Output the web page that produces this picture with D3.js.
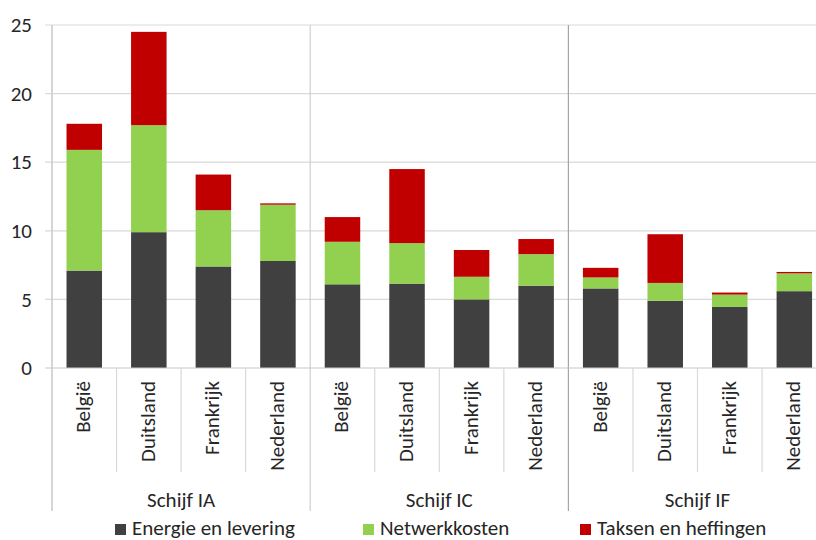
<!DOCTYPE html>
<html>
<head>
<meta charset="utf-8">
<script src="https://cdn.jsdelivr.net/npm/d3@7"></script>
<style>
  html, body { margin: 0; padding: 0; background: #fff; }
  svg { display: block; font-family: Carlito, Calibri, Lato, "Open Sans", sans-serif; }
</style>
</head>
<body>
<svg id="chart" width="816" height="540"></svg>
<script>
// Electricity price components per consumer band (Schijf) and country
const groups = ["Schijf IA", "Schijf IC", "Schijf IF"];
const countries = ["België", "Duitsland", "Frankrijk", "Nederland"];
const seriesNames = ["Energie en levering", "Netwerkkosten", "Taksen en heffingen"];
const seriesColors = ["#404040", "#92d050", "#c00000"];

// values in the order IA (BE, DE, FR, NL), IC (...), IF (...)
const energie = [7.1, 9.9, 7.4, 7.8, 6.1, 6.15, 5.0, 6.0, 5.8, 4.9, 4.45, 5.6];
const netwerk = [8.8, 7.8, 4.1, 4.1, 3.1, 2.95, 1.65, 2.3, 0.8, 1.3, 0.9, 1.3];
const taksen  = [1.9, 6.8, 2.6, 0.1, 1.8, 5.4, 1.95, 1.1, 0.7, 3.55, 0.15, 0.1];
const yTicks = [0, 5, 10, 15, 20, 25];

const rows = [];
groups.forEach((g, gi) => countries.forEach((c, ci) => {
  const i = gi * countries.length + ci;
  rows.push({ key: g + "|" + c, group: g, country: c,
    "Energie en levering": energie[i], "Netwerkkosten": netwerk[i], "Taksen en heffingen": taksen[i] });
}));

const svg = d3.select("#chart");
const plotLeft = 52, plotTop = 25, plotBottom = 368;
const step = 64.55;
const plotRight = plotLeft + step * rows.length;
const fontSize = 21;
const textColor = "#262626";

const x = d3.scaleBand().domain(rows.map(d => d.key)).range([plotLeft, plotRight]).padding(0);
const y = d3.scaleLinear().domain([0, 25]).range([plotBottom, plotTop]);
const barW = x.bandwidth() * 0.55;

// horizontal gridlines with short ticks left of the axis
svg.append("g").selectAll("line").data(yTicks.filter(t => t > 0)).join("line")
  .attr("x1", plotLeft - 7).attr("x2", 816)
  .attr("y1", d => y(d)).attr("y2", d => y(d))
  .attr("stroke", "#d9d9d9").attr("stroke-width", 1.2);

// group separators across the plot and the label area
const groupEdges = groups.map((g, gi) => x(rows[gi * countries.length].key));
svg.append("g").selectAll("line").data(groupEdges).join("line")
  .attr("x1", d => d).attr("x2", d => d)
  .attr("y1", plotTop).attr("y2", 511)
  .attr("stroke", (d, i) => i === 2 ? "#a6a6a6" : "#cfcfcf").attr("stroke-width", 1.2);

// stacked bars
const stack = d3.stack().keys(seriesNames);
const stacked = stack(rows);
svg.append("g").selectAll("g").data(stacked).join("g")
  .attr("fill", (d, i) => seriesColors[i])
  .selectAll("rect").data(d => d).join("rect")
  .attr("x", d => x(d.data.key) + (x.bandwidth() - barW) / 2)
  .attr("width", barW)
  .attr("y", d => y(d[1]))
  .attr("height", d => y(d[0]) - y(d[1]));

// baseline
svg.append("line").attr("x1", plotLeft - 7).attr("x2", 816)
  .attr("y1", plotBottom).attr("y2", plotBottom)
  .attr("stroke", "#c8c8c8").attr("stroke-width", 1.2);

// category separators below the axis
svg.append("g").selectAll("line")
  .data(rows.filter((d, i) => i % countries.length !== 0)).join("line")
  .attr("x1", d => x(d.key)).attr("x2", d => x(d.key))
  .attr("y1", plotBottom).attr("y2", 472)
  .attr("stroke", "#d9d9d9").attr("stroke-width", 1.2);

// y-axis tick labels
const yAxis = d3.axisLeft(y).tickValues(yTicks).tickSize(0).tickPadding(20);
const yg = svg.append("g").attr("transform", `translate(${plotLeft},0)`).call(yAxis);
yg.select(".domain").remove();
yg.selectAll("text").attr("font-size", fontSize).attr("fill", textColor)
  .attr("font-family", "Carlito, Calibri, Lato, sans-serif");

// left axis line
svg.append("line").attr("x1", plotLeft).attr("x2", plotLeft)
  .attr("y1", plotTop).attr("y2", 511)
  .attr("stroke", "#cfcfcf").attr("stroke-width", 1.2);

// rotated country labels
svg.append("g").selectAll("text").data(rows).join("text")
  .attr("transform", d => `translate(${x(d.key) + x.bandwidth() / 2 + 6},381) rotate(-90)`)
  .attr("text-anchor", "end")
  .attr("font-size", fontSize).attr("fill", textColor)
  .text(d => d.country);

// group labels
svg.append("g").selectAll("text").data(groups).join("text")
  .attr("x", (g, gi) => groupEdges[gi] + step * countries.length / 2)
  .attr("y", 507)
  .attr("text-anchor", "middle")
  .attr("font-size", fontSize).attr("fill", textColor)
  .text(d => d);

// legend
const legendX = [115, 363, 580];
const lg = svg.append("g").selectAll("g").data(seriesNames).join("g")
  .attr("transform", (d, i) => `translate(${legendX[i]},0)`);
lg.append("rect").attr("x", 0).attr("y", 524).attr("width", 11).attr("height", 11)
  .attr("fill", (d, i) => seriesColors[i]);
lg.append("text").attr("x", 17).attr("y", 535)
  .attr("font-size", fontSize).attr("fill", textColor)
  .text(d => d);
</script>
</body>
</html>
